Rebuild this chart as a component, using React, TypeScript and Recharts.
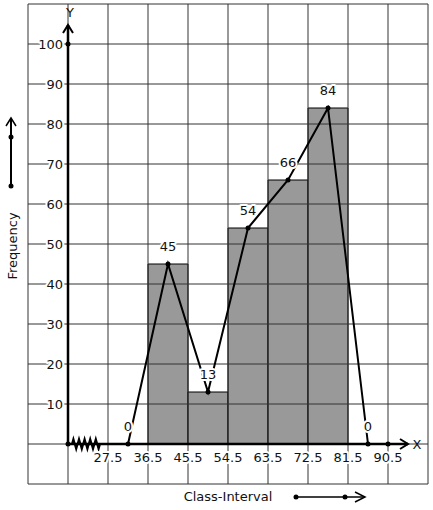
import { ComposedChart, XAxis, YAxis, Bar, Line, LabelList, ReferenceLine, ReferenceDot } from 'recharts';

// mid points of every 9-wide cell along the x axis (9.5 .. 99.5)
const classMarks = [14, 23, 32, 41, 50, 59, 68, 77, 86, 95];
// frequency polygon (incl. the two imaginary zero classes 27.5-36.5 and 81.5-90.5)
const polygon = [null, null, 0, 45, 13, 54, 66, 84, 0, null];
// histogram bars
const histogram = [null, null, null, 45, 13, 54, 66, 84, null, null];
const boundaries = [27.5, 36.5, 45.5, 54.5, 63.5, 72.5, 81.5, 90.5];
const gridX = [9.5, 18.5, 27.5, 36.5, 45.5, 54.5, 63.5, 72.5, 81.5, 90.5, 99.5];
const gridY = [-10, 0, 10, 20, 30, 40, 50, 60, 70, 80, 90, 100, 110];
const yLabels = [10, 20, 30, 40, 50, 60, 70, 80, 90, 100];
const origin = 18.5;

const FONT = '"DejaVu Sans", Verdana, sans-serif';

const data = classMarks.map((x, i) => ({ x, freq: polygon[i], bar: histogram[i] }));

function HaloText({ x, y, anchor = 'middle', children }: any) {
  return (
    <text
      x={x}
      y={y}
      textAnchor={anchor}
      dominantBaseline="central"
      fontFamily={FONT}
      fontSize={13}
      fill="#111"
      stroke="#fff"
      strokeWidth={4}
      strokeLinejoin="round"
      paintOrder="stroke"
    >
      {children}
    </text>
  );
}

const noTick = () => <g />;

const arrowUp = (p: any) => {
  const { x1, y1, x2, y2 } = p;
  return (
    <g>
      <line x1={x1} y1={y1} x2={x2} y2={y2} stroke="#000" strokeWidth={2.5} />
      <path d={`M${x2 - 5},${y2 + 8} L${x2},${y2} L${x2 + 5},${y2 + 8}`} fill="none" stroke="#000" strokeWidth={2} />
      <text x={x2 + 2} y={y2 - 13} textAnchor="middle" dominantBaseline="central" fontFamily={FONT} fontSize={13} fill="#111">Y</text>
    </g>
  );
};

const arrowRight = (p: any) => {
  const { x1, y1, x2, y2 } = p;
  return (
    <g>
      <line x1={x1} y1={y1} x2={x2} y2={y2} stroke="#000" strokeWidth={2.5} />
      <path d={`M${x2 - 8},${y2 - 5} L${x2},${y2} L${x2 - 8},${y2 + 5}`} fill="none" stroke="#000" strokeWidth={2} />
      <text x={x2 + 9} y={y2} textAnchor="middle" dominantBaseline="central" fontFamily={FONT} fontSize={13} fill="#111">X</text>
    </g>
  );
};

const zigzag = (p: any) => {
  const { x1, y1, x2 } = p;
  const n = 10;
  const w = (x2 - x1) / n;
  let d = `M${x1},${y1}`;
  for (let i = 0; i < n; i++) {
    d += ` L${x1 + (i + 0.5) * w},${y1 + (i % 2 === 0 ? -5 : 5)}`;
  }
  d += ` L${x2},${y1}`;
  return <path d={d} fill="none" stroke="#000" strokeWidth={2} />;
};

const FrequencyTitle = (p: any) => {
  const { viewBox } = p;
  const cy = viewBox.y + viewBox.height / 2;
  return (
    <g>
      <text x={12} y={cy + 2} transform={`rotate(-90 12 ${cy + 2})`} textAnchor="middle" dominantBaseline="central" fontFamily={FONT} fontSize={13} fill="#111">
        Frequency
      </text>
      <line x1={11} y1={cy - 58} x2={11} y2={cy - 126} stroke="#000" strokeWidth={2} />
      <path d={`M6,${cy - 118} L11,${cy - 126} L16,${cy - 118}`} fill="none" stroke="#000" strokeWidth={1.5} />
      <circle cx={11} cy={cy - 58} r={2.5} fill="#000" />
      <circle cx={11} cy={cy - 107} r={2.5} fill="#000" />
    </g>
  );
};

const ClassTitle = (p: any) => {
  const { viewBox } = p;
  const cx = viewBox.x + viewBox.width / 2;
  const y = viewBox.y + 12;
  return (
    <g>
      <text x={cx} y={y} textAnchor="middle" dominantBaseline="central" fontFamily={FONT} fontSize={13} fill="#111">
        Class-Interval
      </text>
      <line x1={cx + 68} y1={y + 1} x2={cx + 137} y2={y + 1} stroke="#000" strokeWidth={1.5} />
      <path d={`M${cx + 127},${y - 4} L${cx + 137},${y + 1} L${cx + 127},${y + 6}`} fill="none" stroke="#000" strokeWidth={1.5} />
      <circle cx={cx + 68} cy={y + 1} r={2.5} fill="#000" />
      <circle cx={cx + 117} cy={y + 1} r={2.5} fill="#000" />
    </g>
  );
};

export default function App() {
  return (
    <div style={{ position: 'absolute', left: 0, top: 0, background: '#fff' }}>
      <ComposedChart
        width={433}
        height={510}
        data={data}
        margin={{ top: 4, right: 5, bottom: 25, left: 27 }}
        barCategoryGap={0}
        barGap={0}
      >
        <XAxis
          dataKey="x"
          type="number"
          domain={[9.5, 99.5]}
          ticks={gridX}
          tick={noTick}
          axisLine={false}
          tickLine={false}
          height={1}
          label={{ content: ClassTitle }}
        />
        <XAxis xAxisId="band" dataKey="x" type="category" hide padding={{ left: 0, right: 0 }} />
        <YAxis
          type="number"
          domain={[-10, 110]}
          ticks={gridY}
          tick={noTick}
          axisLine={false}
          tickLine={false}
          width={1}
          label={{ content: FrequencyTitle }}
        />
        {gridX.map((v) => (
          <ReferenceLine key={`gx${v}`} x={v} stroke="#333" strokeWidth={1} />
        ))}
        {gridY.map((v) => (
          <ReferenceLine key={`gy${v}`} y={v} stroke="#333" strokeWidth={1} />
        ))}
        <Bar xAxisId="band" dataKey="bar" fill="#999999" stroke="#000" strokeWidth={1} isAnimationActive={false} />
        <ReferenceLine segment={[{ x: origin, y: 0 }, { x: origin, y: 104.75 }]} shape={arrowUp} />
        <ReferenceLine segment={[{ x: origin, y: 0 }, { x: 95, y: 0 }]} shape={arrowRight} />
        <ReferenceLine segment={[{ x: 19.4, y: 0 }, { x: 25.7, y: 0 }]} shape={zigzag} />
        {boundaries.map((b) => (
          <ReferenceDot
            key={`xb${b}`}
            x={b}
            y={0}
            r={0}
            fill="none"
            stroke="none"
            label={{ content: (p: any) => <HaloText x={p.viewBox.x} y={p.viewBox.y + 13}>{b}</HaloText> }}
          />
        ))}
        {yLabels.map((v) => (
          <ReferenceDot
            key={`yl${v}`}
            x={origin}
            y={v}
            r={0}
            fill="none"
            stroke="none"
            label={{ content: (p: any) => <HaloText x={p.viewBox.x - 5} y={p.viewBox.y} anchor="end">{v}</HaloText> }}
          />
        ))}
        <Line
          dataKey="freq"
          type="linear"
          stroke="#000"
          strokeWidth={2}
          dot={{ r: 2.5, fill: '#000', stroke: '#000', strokeWidth: 0 }}
          activeDot={false}
          isAnimationActive={false}
        >
          <LabelList
            dataKey="freq"
            content={(p: any) =>
              p.value == null ? null : <HaloText x={p.x} y={p.y - 18}>{p.value}</HaloText>
            }
          />
        </Line>
        <ReferenceDot x={origin} y={0} r={2.5} fill="#000" stroke="none" />
        <ReferenceDot x={origin} y={100} r={2.5} fill="#000" stroke="none" />
        <ReferenceDot x={90.5} y={0} r={2.5} fill="#000" stroke="none" />
      </ComposedChart>
    </div>
  );
}
